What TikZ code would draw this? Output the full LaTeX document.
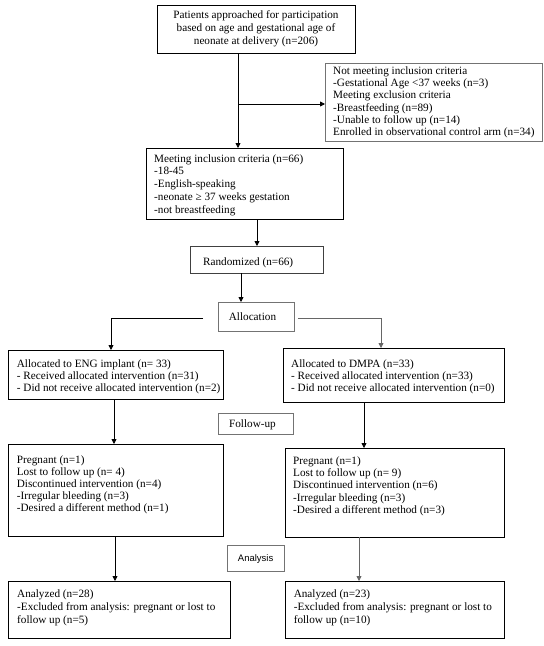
\documentclass[tikz,border=0pt]{standalone}
\usepackage{fontspec}
\setmainfont{Liberation Serif}
\newfontfamily\arialfont{Liberation Sans}
\usetikzlibrary{arrows.meta}
\begin{document}
\begin{tikzpicture}[x=1pt,y=-1pt,
  bx/.style={draw=black, line width=0.8pt, anchor=north west, inner sep=0pt, outer sep=0pt},
  gbx/.style={bx, draw=black!55},
  txt/.style={anchor=north west, align=left, inner sep=0pt, font=\fontsize{11.2}{12.1}\selectfont},
  one/.style={anchor=base west, inner sep=0pt, font=\fontsize{11.2}{12.1}\selectfont},
  arr/.style={draw=black, line width=0.8pt, -{Triangle[length=5pt,width=5pt]}},
  garr/.style={arr, draw=black!60}]
\useasboundingbox (0,0) rectangle (544,646);
\fill[white] (0,0) rectangle (544,646);
% boxes
\node[bx, minimum width=198pt, minimum height=48pt] (top) at (157,5) {};
\node[gbx, minimum width=217pt, minimum height=78pt] (excl) at (325,63) {};
\node[bx, minimum width=197pt, minimum height=71pt] (incl) at (146,148) {};
\node[bx, draw=black!75, minimum width=133pt, minimum height=27pt] (rand) at (190,246) {};
\node[gbx, minimum width=76pt, minimum height=29pt] (alloc) at (218,302) {};
\node[bx, minimum width=215pt, minimum height=49pt] (la) at (8,350) {};
\node[bx, minimum width=221pt, minimum height=54pt] (ra) at (283,348) {};
\node[gbx, minimum width=75pt, minimum height=21pt] (fu) at (218,413) {};
\node[bx, minimum width=215pt, minimum height=92pt] (lp) at (8,444) {};
\node[bx, minimum width=219pt, minimum height=89pt] (rp) at (285,448) {};
\node[gbx, minimum width=57pt, minimum height=26pt] (an) at (227,545) {};
\node[bx, minimum width=222pt, minimum height=57pt] (lan) at (8,581) {};
\node[bx, minimum width=219pt, minimum height=57pt] (ran) at (285,581) {};
% texts
\node[txt, anchor=center, align=center, font=\fontsize{11.2}{12.8}\selectfont] (topt) at (top.center)
  {Patients approached for participation\\based on age and gestational age of\\neonate at delivery (n=206)};
\node[txt] (exclt) at ([shift={(8pt,-3.5pt)}]excl.north west)
  {\rule{0pt}{8pt}Not meeting inclusion criteria\\-Gestational Age <37 weeks (n=3)\\Meeting exclusion criteria\\-Breastfeeding (n=89)\\-Unable to follow up (n=14)\\Enrolled in observational control arm (n=34)};
\node[txt, font=\fontsize{11.2}{12.9}\selectfont] (inclt) at ([shift={(8pt,-5.8pt)}]incl.north west)
  {\rule{0pt}{8pt}Meeting inclusion criteria (n=66)\\-18-45\\-English-speaking\\-neonate ≥ 37 weeks gestation\\-not breastfeeding};
\node[one] (randt) at ([shift={(13pt,-19pt)}]rand.north west) {Randomized (n=66)};
\node[one, anchor=base] (alloct) at ([shift={(34.5pt,-18.5pt)}]alloc.north west) {Allocation};
\node[txt] (lat) at ([shift={(8.7pt,-9.5pt)}]la.north west)
  {\rule{0pt}{8pt}Allocated to ENG implant (n= 33)\\- Received allocated intervention (n=31)\\- Did not receive allocated intervention (n=2)};
\node[txt] (rat) at ([shift={(8pt,-11.5pt)}]ra.north west)
  {\rule{0pt}{8pt}Allocated to DMPA (n=33)\\- Received allocated intervention (n=33)\\- Did not receive allocated intervention (n=0)};
\node[one, anchor=base] (fut) at ([shift={(34.5pt,-14.5pt)}]fu.north west) {Follow-up};
\node[txt] (lpt) at ([shift={(8.7pt,-11pt)}]lp.north west)
  {\rule{0pt}{8pt}Pregnant (n=1)\\Lost to follow up (n= 4)\\Discontinued intervention (n=4)\\-Irregular bleeding (n=3)\\-Desired a different method (n=1)};
\node[txt] (rpt) at ([shift={(8pt,-8.5pt)}]rp.north west)
  {\rule{0pt}{8pt}Pregnant (n=1)\\Lost to follow up (n= 9)\\Discontinued intervention (n=6)\\-Irregular bleeding (n=3)\\-Desired a different method (n=3)};
\node[one, anchor=base, font=\arialfont\fontsize{9.5}{11}\selectfont] (ant) at ([shift={(28.6pt,-16.5pt)}]an.north west) {Analysis};
\node[txt, font=\fontsize{11.2}{13}\selectfont] (lant) at ([shift={(9pt,-8.5pt)}]lan.north west)
  {\rule{0pt}{8pt}Analyzed (n=28)\\-Excluded from analysis: pregnant or lost to\\follow up (n=5)};
\node[txt, font=\fontsize{11.2}{13}\selectfont] (rant) at ([shift={(8.6pt,-8.5pt)}]ran.north west)
  {\rule{0pt}{8pt}Analyzed (n=23)\\-Excluded from analysis: pregnant or lost to\\follow up (n=10)};
% connectors
\draw[arr] ([xshift=81pt]top.south west) -- ([xshift=92pt]incl.north west);
\coordinate (br) at (238,104);
\draw[arr] (br) -- (br -| excl.west);
\draw[arr] ([xshift=111pt]incl.south west) -- ([xshift=67pt]rand.north west);
\draw[arr] ([xshift=51pt]rand.south west) -- ([xshift=23pt]alloc.north west);
\coordinate (aL) at (203,318);
\coordinate (aR) at (298,318);
\draw[arr] (aL) -| ([xshift=103pt]la.north west);
\draw[garr] (aR) -| ([xshift=98pt]ra.north west);
\draw[arr] ([xshift=106pt]la.south west) -- ([xshift=106pt]lp.north west);
\draw[arr] ([xshift=81pt]ra.south west) -- ([xshift=79pt]rp.north west);
\draw[arr] ([xshift=107pt]lp.south west) -- ([xshift=107pt]lan.north west);
\draw[garr] ([xshift=74pt]rp.south west) -- ([xshift=74pt]ran.north west);
\end{tikzpicture}
\end{document}
